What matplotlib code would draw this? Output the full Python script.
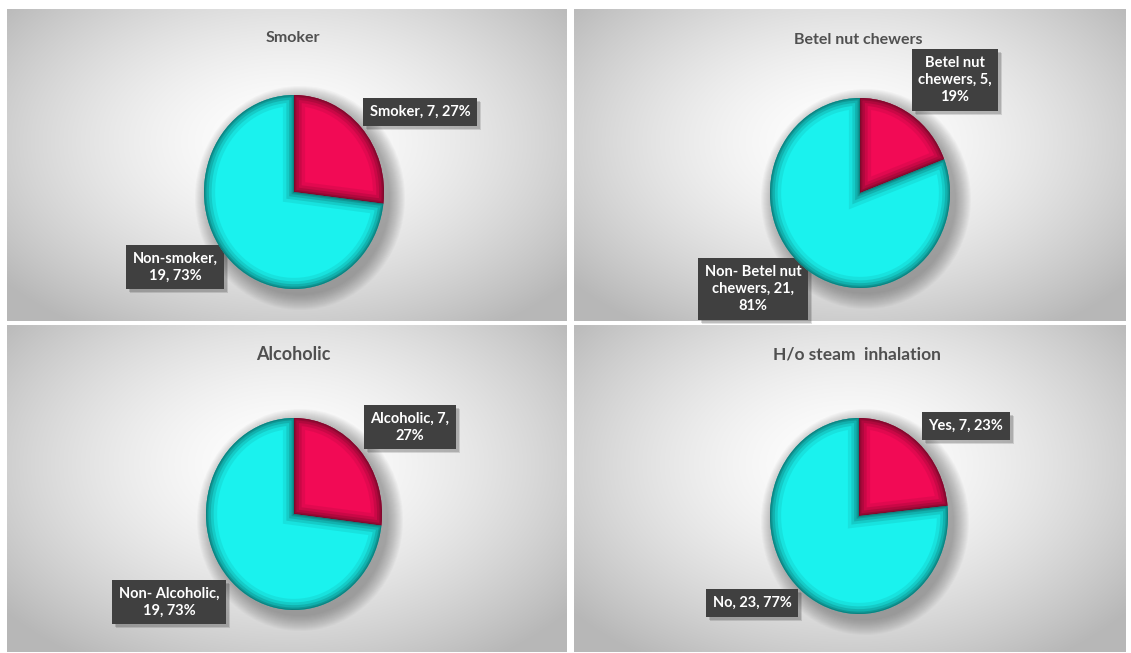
import textwrap
import numpy as np
import matplotlib.pyplot as plt
from matplotlib.patches import Ellipse, Wedge, Rectangle

# survey answers, one pie per question
titles = ["Smoker", "Betel nut chewers", "Alcoholic", "H/o steam  inhalation"]
yes_names = ["Smoker", "Betel nut chewers", "Alcoholic", "Yes"]
no_names = ["Non-smoker", "Non- Betel nut chewers", "Non- Alcoholic", "No"]
yes_counts = [7, 5, 7, 7]
no_counts = [19, 21, 19, 23]

W, H = 1131, 653
plt.rcParams['font.family'] = ['Lato', 'DejaVu Sans']

# layout in pixels
panels = [(7, 9, 567, 321), (574, 9, 1126, 321), (7, 325, 567, 652), (574, 325, 1126, 652)]
pies = [(294, 192, 90, 97), (860, 193, 90, 95), (294, 514, 88, 96), (859, 516, 89, 98)]
title_pos = [(293, 38), (858, 40), (293, 355), (857, 355)]
title_size = [11.5, 11.5, 13, 12.5]
yes_pos = [(420, 112), (955, 80), (410, 427), (966, 426)]
no_pos = [(175, 267), (753, 289), (169, 602), (752, 603)]
wraps = [(20, 11), (11, 14), (13, 15), (20, 20)]

red, red_dark = '#F20A55', '#6E0826'
cyan, cyan_dark = '#1AF2EE', '#0A706E'

fig = plt.figure(figsize=(W / 100, H / 100), dpi=100)
fig.patch.set_facecolor('white')
bg = fig.add_axes([0, 0, 1, 1])
bg.set_xlim(0, W)
bg.set_ylim(H, 0)
bg.axis('off')

# radial grey gradient behind each panel
for x0, y0, x1, y1 in panels:
    nx, ny = 200, 120
    gx, gy = np.meshgrid(np.linspace(-1, 1, nx), np.linspace(-1, 1, ny))
    r = np.sqrt(gx ** 2 + ((gy + 0.15) * 0.9) ** 2) / 1.3
    v = 1.0 - 0.28 * np.clip(r, 0, 1) ** 1.6
    img = np.dstack([v, v, v])
    bg.imshow(img, extent=(x0, x1, y1, y0), aspect='auto', interpolation='bilinear', zorder=0)

# soft shadow under the pies
for cx, cy, rx, ry in pies:
    for k in range(16):
        bg.add_patch(Ellipse((cx + 6, cy + 6), 2 * rx + 2 * k, 2 * ry + 2 * k,
                             fc='#505050', ec='none', alpha=0.035, zorder=1))

labels = []


def label_box(x, y, s):
    t = bg.text(x, y, s, ha='center', va='center', fontsize=10.5, fontweight='bold',
                color='white', multialignment='center', linespacing=1.3, zorder=4,
                bbox=dict(boxstyle='square,pad=0.45', fc='#404040', ec='none'))
    labels.append(t)


for i in range(4):
    cx, cy, rx, ry = pies[i]
    ax = fig.add_axes([(cx - rx) / W, 1 - (cy + ry) / H, 2 * rx / W, 2 * ry / H])
    vals = [yes_counts[i], no_counts[i]]
    wedges, _ = ax.pie(vals, colors=[red, cyan], startangle=90, counterclock=False,
                       radius=1, wedgeprops=dict(linewidth=0))
    ax.set_aspect('auto')
    ax.set_xlim(-1, 1)
    ax.set_ylim(-1, 1)
    ax.axis('off')
    # bevelled rim drawn as strokes clipped inside each slice
    for w, dark in zip(wedges, [red_dark, cyan_dark]):
        for lw, a in [(16, 0.12), (11, 0.2), (7, 0.28), (3.5, 0.38), (1.5, 0.55)]:
            rim = Wedge(w.center, w.r, w.theta1, w.theta2, fill=False, ec=dark, lw=lw, alpha=a)
            ax.add_patch(rim)
            rim.set_clip_path(w)

    bg.text(*title_pos[i], titles[i], ha='center', va='center', fontsize=title_size[i],
            fontweight='bold', color='#505050', zorder=3)

    total = sum(vals)
    for name, n, pos, wid in zip([yes_names[i], no_names[i]], vals,
                                 [yes_pos[i], no_pos[i]], wraps[i]):
        pct = round(100 * n / total)
        s = textwrap.fill(f"{name}, {n}, {pct}%", wid, break_on_hyphens=False)
        label_box(pos[0], pos[1], s)

# drop shadows behind the label boxes
fig.canvas.draw()
inv = bg.transData.inverted()
for t in labels:
    ext = t.get_bbox_patch().get_window_extent()
    (x0, y0), (x1, y1) = inv.transform([[ext.x0, ext.y0], [ext.x1, ext.y1]])
    for d, a in [(4, 0.12), (3, 0.15)]:
        bg.add_patch(Rectangle((min(x0, x1) + d, min(y0, y1) + d), abs(x1 - x0), abs(y1 - y0),
                               fc='black', ec='none', alpha=a, zorder=3))

fig.savefig('out.png', dpi=100)
